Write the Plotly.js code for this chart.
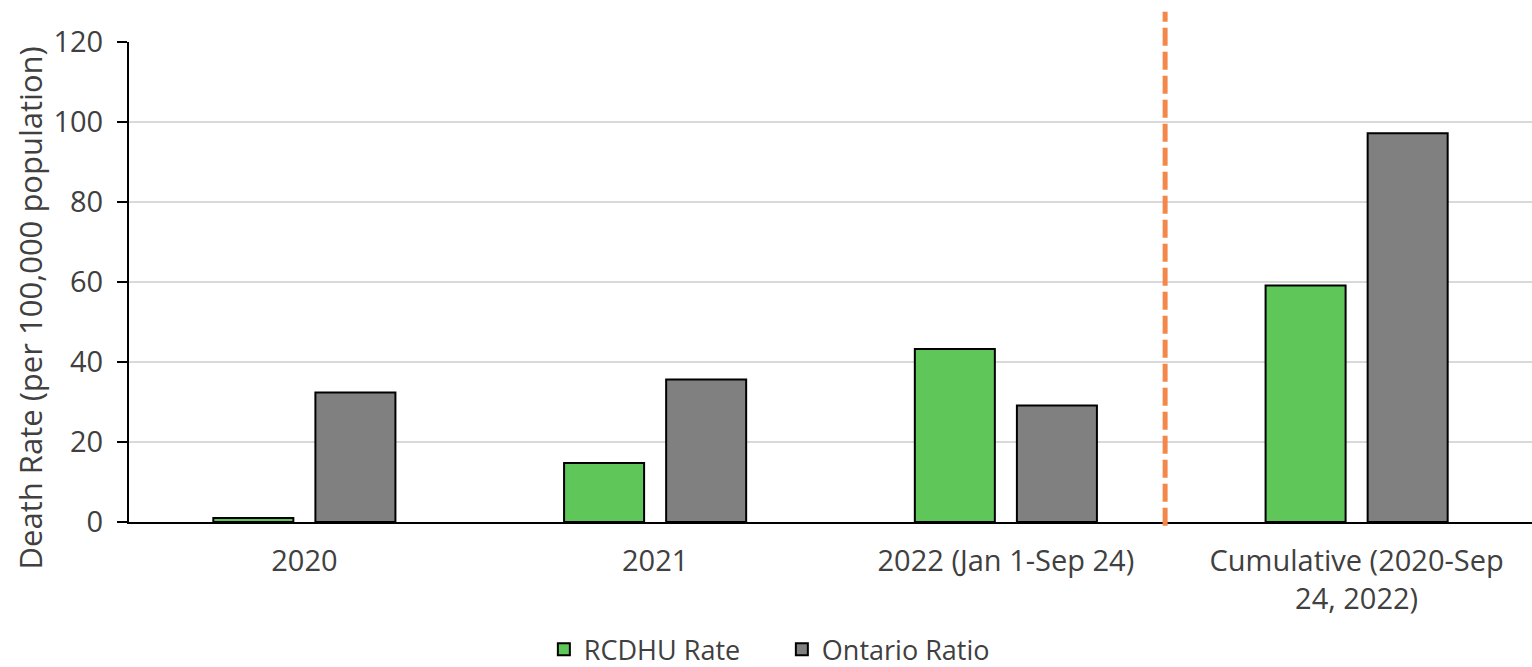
<!DOCTYPE html>
<html>
<head>
<meta charset="utf-8">
<script src="https://cdn.plot.ly/plotly-3.0.1.min.js"></script>
<style>html,body{margin:0;padding:0;background:#fff;}#chart{width:1532px;height:667px;}</style>
</head>
<body>
<div id="chart"></div>
<script>
const categories = ['2020', '2021', '2022 (Jan 1-Sep 24)', 'Cumulative (2020-Sep<br>24, 2022)'];
const rcdhuRate = [1.0, 14.75, 43.25, 59.1];
const ontarioRatio = [32.4, 35.6, 29.1, 97.2];
const seriesNames = ['RCDHU Rate', 'Ontario Ratio'];
const yTicks = [0, 20, 40, 60, 80, 100, 120];
const yTitle = 'Death Rate (per 100,000 population)';
const dividerX = 2.454;

const FONT = '"Open Sans", Lato, sans-serif';
const TXT = '#404040';

const traces = [
  {type: 'bar', name: seriesNames[0], x: categories, y: rcdhuRate,
   marker: {color: '#5FC65A', line: {color: '#000000', width: 2}}, hoverinfo: 'y'},
  {type: 'bar', name: seriesNames[1], x: categories, y: ontarioRatio,
   marker: {color: '#808080', line: {color: '#000000', width: 2}}, hoverinfo: 'y'}
];

const layout = {
  width: 1532, height: 667,
  margin: {l: 129, r: 0, t: 42, b: 145},
  paper_bgcolor: '#ffffff', plot_bgcolor: '#ffffff',
  font: {family: FONT, size: 29, color: TXT},
  barmode: 'group', bargap: 0.418, bargroupgap: 0.216,
  showlegend: true,
  legend: {orientation: 'h', xref: 'container', yref: 'container', x: 0.355, xanchor: 'left', y: 0.026, yanchor: 'middle',
           font: {family: FONT, size: 27, color: TXT}, itemwidth: 30, traceorder: 'normal',
           entrywidth: 193, entrywidthmode: 'pixels'},
  xaxis: {type: 'category', range: [-0.5, 3.5], showgrid: false, zeroline: false,
          showline: true, linecolor: '#000000', linewidth: 2, ticks: '',
          tickfont: {family: FONT, size: 29, color: TXT}, ticklabelstandoff: 12, fixedrange: true},
  yaxis: {range: [0, 120], tickvals: yTicks, ticktext: yTicks.map(String),
          showgrid: true, gridcolor: '#D9D9D9', gridwidth: 2, zeroline: false,
          showline: true, linecolor: '#000000', linewidth: 2,
          ticks: 'outside', ticklen: 10, tickwidth: 2, tickcolor: '#000000',
          tickfont: {family: FONT, size: 29, color: TXT}, ticklabelstandoff: 8,
          fixedrange: true},
  annotations: [
    {text: yTitle, xref: 'paper', yref: 'paper', x: -0.0706, y: 0.447, xanchor: 'center', yanchor: 'middle',
     textangle: -90, showarrow: false, font: {family: FONT, size: 31, color: TXT}}
  ],
  shapes: [
    {type: 'line', xref: 'x', yref: 'paper', x0: dividerX, x1: dividerX, y0: -0.008, y1: 1.063,
     line: {color: '#F4884A', width: 5, dash: '18px,6px'}}
  ]
};

Plotly.newPlot('chart', traces, layout, {displayModeBar: false, staticPlot: true});
</script>
</body>
</html>
